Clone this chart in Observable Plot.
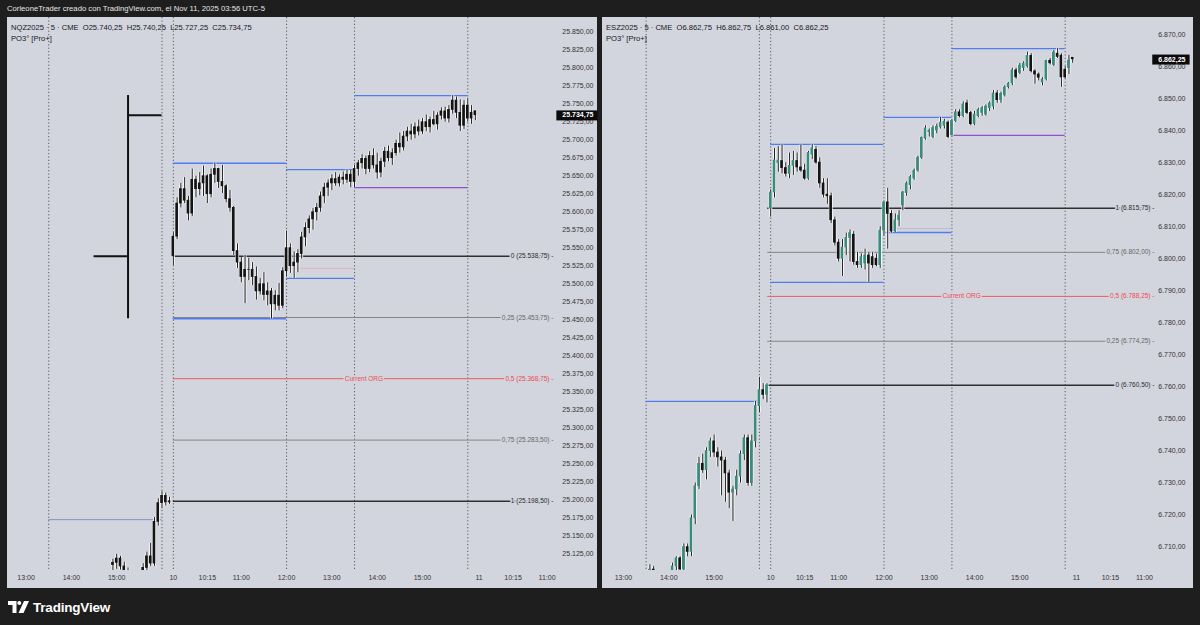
<!DOCTYPE html>
<html><head><meta charset="utf-8">
<script src="https://cdn.jsdelivr.net/npm/d3@7"></script>
<script src="https://cdn.jsdelivr.net/npm/@observablehq/plot@0.6"></script>
<style>
html,body{margin:0;padding:0;background:#1e1e1e;width:1200px;height:625px;overflow:hidden;font-family:"Liberation Sans",Arial,sans-serif;}
#title{position:absolute;left:7px;top:4px;font-size:7.7px;line-height:10px;color:#e6e6e6;white-space:nowrap;}
.panel{position:absolute;top:17px;height:571px;background:#d3d5de;}
#left{left:7px;width:590px;}
#right{left:602px;width:591px;}
.legend{position:absolute;left:4px;top:5px;font-size:7.6px;line-height:11px;color:#131722;white-space:nowrap;pointer-events:none;}
.panel svg{position:absolute;left:0;top:0;}
svg text{paint-order:stroke;}
#logo{position:absolute;left:8px;top:597px;height:20px;display:flex;align-items:center;color:#fff;font-weight:bold;font-size:13.5px;letter-spacing:-0.2px;}
#logo svg{margin-right:4px;}
</style>
</head><body>
<div id="title">CorleoneTrader creado con TradingView.com, el Nov 11, 2025 03:56 UTC-5</div>
<div class="panel" id="left"></div>
<div class="panel" id="right"></div>
<div id="logo"><svg width="21" height="12" viewBox="0 0 21 12"><path d="M0 0H8.5V12H4.5V4H0Z" fill="#fff"/><circle cx="11.3" cy="2" r="2" fill="#fff"/><path d="M16 0H21L15.5 12H10.5Z" fill="#fff"/></svg>TradingView</div>
<script>
// ---------- shared axis data ----------
const xTickIdx    = [0, 12, 24, 39, 48, 57, 69, 81, 93, 105, 120, 129, 138];
const xTickLabels = ["13:00","14:00","15:00","10","10:15","11:00","12:00","13:00","14:00","15:00","11","10:15","11:00"];
const sessionIdx  = [6, 36, 39, 69, 87, 117];

// ---------- NQZ2025 (left) ----------
const nqStart = 23;
const nqOpen  = [25110,25113,25119,25108,25100,25094,25085,25090,25096,25106,25122,25112,25170,25196,25206,25197,
  25538.75,25566,25612,25632,25616,25598,25645,25632,25640,25650,25625,25652,25660,25642,25636,25618,25606,25546,25530,25510,25520,25520,25510,25490,25500,25485,25490,25472,25484,25470,
  25518,25550,25525,25530,25542,25565,25578,25590,25600,25606,25622,25634,25640,25646,25640,25648,25645,25652,
  25642,25660,25668,25674,25660,25678,25665,25655,25670,25684,25675,25682,25695,25690,25705,25712,25708,25718,25712,25725,25718,25728,25722,25734,25740,25730,25742,25755,25738,25720,25748,25730,25740.25];
const nqHigh  = [25118,25125,25122,25114,25106,25098,25094,25100,25112,25128,25140,25176,25202,25212,25210,25204,
  25572,25620,25640,25648,25622,25660,25650,25655,25664,25652,25660,25668,25661,25665,25638,25630,25608,25556,25537,25540,25536,25530,25524,25508,25516,25502,25494,25491,25501,25523,
  25574,25556,25545,25548,25572,25585,25595,25605,25612,25628,25640,25645,25652,25655,25652,25656,25659,25658,
  25665,25672,25680,25678,25684,25688,25682,25675,25690,25692,25688,25700,25710,25712,25718,25722,25724,25728,25730,25735,25732,25740,25738,25745,25746,25748,25762,25760,25756,25755,25758,25748,25740.25];
const nqLow   = [25098,25104,25103,25094,25088,25080,25078,25084,25090,25100,25108,25108,25164,25188,25192,25194,
  25526,25562,25606,25612,25588,25594,25620,25623,25622,25612,25620,25640,25633,25626,25613,25600,25540,25522,25502,25473,25505,25498,25478,25485,25477,25470,25452,25463,25463,25466,
  25510,25515,25508,25516,25535,25552,25570,25575,25588,25600,25612,25622,25630,25636,25635,25638,25640,25634,
  25634,25650,25660,25652,25655,25660,25646,25648,25662,25670,25665,25678,25682,25685,25698,25700,25702,25706,25708,25712,25710,25720,25714,25728,25725,25724,25736,25730,25712,25715,25725,25722,25727.25];
const nqClose = [25113,25119,25108,25100,25094,25085,25090,25096,25106,25122,25112,25170,25196,25206,25197,25198.5,
  25566,25612,25632,25616,25598,25645,25632,25640,25650,25625,25652,25660,25642,25636,25618,25606,25546,25530,25510,25520,25520,25510,25490,25500,25485,25490,25472,25484,25470,25518,
  25550,25525,25530,25542,25565,25578,25590,25600,25606,25622,25634,25640,25646,25640,25648,25645,25652,25642,
  25660,25668,25674,25660,25678,25665,25655,25670,25684,25675,25682,25695,25690,25705,25712,25708,25718,25712,25725,25718,25728,25722,25734,25740,25730,25742,25755,25738,25720,25748,25730,25738,25734.75];
const nqTicks = d3.range(25125, 25851, 25);
const nqLevels = [
  {lvl:"0",    p:25538.75, kind:"black"},
  {lvl:"0,25", p:25453.75, kind:"gray"},
  {lvl:"0,5",  p:25368.75, kind:"red"},
  {lvl:"0,75", p:25283.50, kind:"gray"},
  {lvl:"1",    p:25198.50, kind:"black"}];
const nqRanges = [
  {a:6,  b:36,  p:25173, kind:"steel"},
  {a:39, b:69,  p:25668, kind:"blue"},
  {a:39, b:69,  p:25452, kind:"blue"},
  {a:69, b:87,  p:25659, kind:"blue"},
  {a:69, b:87,  p:25508, kind:"blue"},
  {a:69, b:87,  p:25522, kind:"pink"},
  {a:87, b:117, p:25762, kind:"blue"},
  {a:87, b:117, p:25634, kind:"purple"}];
const nqPo3 = {i0:18, i:27, i1:36, o:25538.75, h:25762, l:25452, c:25734.75};

// ---------- ESZ2025 (right) ----------
const esStart = 7;
const esOpen  = [6702,6703,6700,6698,6699,6700,6701,6704,6706.5,6703,6710,6708.5,6719,6729,6736,6734,6740,6743,6739.5,6738,6737,6733,6727,6728,6732,6739,6744,6730,6743,6754,6759,6757.5,
  6815.75,6820.7,6829.8,6830.5,6828.3,6826.5,6829,6830.5,6828.5,6827.5,6825,6832.5,6834,6830,6823.5,6820,6819.5,6812,6805,6800,6803.5,6806.5,6807.5,6799,6798,6798.5,6801,6800.5,6800,6798,
  6808.8,6817.6,6814,6808.5,6812,6816.6,6820.5,6823,6825,6827.5,6831.5,6837.5,6839.5,6838,6840,6841,6841.5,6842.5,
  6838.5,6843,6845.7,6844.5,6848.5,6845.5,6842,6844.5,6845.5,6845,6847,6847.5,6851.6,6849.5,6851,6853.5,6854.7,6858.8,6858,6859.5,6860,6863.3,6858.5,6857.5,6855,6856,6861.8,6860.5,6864,6863.4,6859,6859.5,6862.75];
const esHigh  = [6704.5,6704,6702,6701,6702,6702.5,6705,6707,6707,6711,6711,6720,6730,6738,6739,6741,6744,6745,6741,6740,6738,6734,6729,6734,6740,6745,6745,6745,6755.5,6763,6761,6761,
  6821.5,6834.4,6835,6835.5,6830,6833,6833.5,6833,6835.5,6829.5,6833.5,6835.7,6835,6831.5,6825,6825,6820.5,6813,6806,6806,6808,6809,6808.5,6802,6801.5,6803,6802,6802,6801.5,6810,
  6818,6822,6815,6814,6815,6821,6824,6826,6828,6832,6838,6841.5,6840.5,6841.5,6842,6844.1,6843.5,6843,
  6843.5,6846.5,6846.5,6849,6849.5,6846,6846,6847,6847.5,6848,6849,6852.5,6852.5,6852,6854,6855,6859.5,6859.5,6861,6861.5,6864.5,6864,6859,6858,6856.5,6862,6862.5,6865,6865.6,6864,6860,6863.5,6862.75];
const esLow   = [6698,6699,6696,6695,6697,6698,6700,6702,6702,6702,6707,6707,6717,6728,6733,6731,6738,6738,6735,6726,6724,6722,6718,6726,6730,6737,6729,6729,6741,6752,6756,6755,
  6813,6819,6827,6826.5,6825.5,6825,6826,6827,6827,6824.5,6824.5,6831,6829.5,6822,6819,6817,6811,6804,6799,6794.5,6801,6799,6798,6797,6797,6796.5,6792.6,6797,6797.5,6797,
  6807,6803,6808,6808.2,6810,6815,6819.5,6821.5,6824.5,6827,6831,6837,6838,6837.5,6839,6840.5,6840.5,6837.5,
  6838.3,6842.5,6844,6844,6845,6841.5,6841.5,6844,6844.5,6844.5,6846,6846.5,6848.5,6848.5,6850.5,6853,6854,6856,6857.5,6858.5,6859.5,6858,6854.5,6855.5,6854,6855.5,6860.5,6860,6862.5,6853.5,6856,6857.5,6861];
const esClose = [6703,6700,6698,6699,6700,6701,6704,6706.5,6703,6710,6708.5,6719,6729,6736,6734,6740,6743,6739.5,6738,6737,6733,6727,6728,6732,6739,6744,6730,6743,6754,6759,6757.5,6760.5,
  6820.7,6830.7,6830.7,6828.3,6826.5,6829,6830.5,6828.5,6827.5,6825,6833,6834.5,6830,6823.5,6820,6819.5,6812,6805,6800,6803.5,6806.5,6808,6799,6798,6800.5,6801,6798.5,6798,6798,6808.8,
  6817.6,6814,6808.5,6812,6813.5,6820.7,6823.5,6825.5,6827.5,6831.5,6837.8,6840.7,6840,6840.8,6841.2,6842.5,6842.8,6838,
  6843,6845.7,6844.5,6848.2,6845.5,6842,6845,6846.5,6847,6847.5,6848.5,6851.6,6849.5,6851.5,6853.5,6854.7,6858.8,6856.6,6860.3,6860.9,6863.3,6858.5,6857.5,6856.5,6856,6861.8,6861,6864.4,6863,6856.6,6856.6,6861.9,6862.25];
const esTicks = d3.range(6710, 6871, 10);
const esLevels = [
  {lvl:"1",    p:6815.75, kind:"black"},
  {lvl:"0,75", p:6802.00, kind:"gray"},
  {lvl:"0,5",  p:6788.25, kind:"red"},
  {lvl:"0,25", p:6774.25, kind:"gray"},
  {lvl:"0",    p:6760.50, kind:"black"}];
const esRanges = [
  {a:6,  b:36,  p:6755.5, kind:"blue"},
  {a:39, b:69,  p:6835.7, kind:"blue"},
  {a:39, b:69,  p:6792.6, kind:"blue"},
  {a:69, b:87,  p:6844.1, kind:"blue"},
  {a:69, b:87,  p:6809.4, kind:"lightgray"},
  {a:69, b:87,  p:6808.2, kind:"blue"},
  {a:87, b:117, p:6865.6, kind:"blue"},
  {a:87, b:117, p:6838.5, kind:"purple"}];

// ---------- styles ----------
const BG = "#d3d5de";
const levelStroke = {black:"#303030", gray:"#858585", red:"#f0585c"};
const levelText   = {black:"#2a2a2a", gray:"#666", red:"#ee4a50"};
const levelWidth  = {black:1.4, gray:1, red:1};
const rangeStroke = {blue:"#4f7df0", purple:"#9150d0", steel:"#8491c4", pink:"#e2b3c6", lightgray:"#b9bdca"};
const fmt = d3.formatLocale({decimal:",", thousands:".", grouping:[3], currency:["",""]}).format(",.2f");
const xLabel = new Map(xTickIdx.map((d,k)=>[d, xTickLabels[k]]));

function panel(el, cfg) {
  const bars = cfg.open.map((o,k)=>({i: cfg.start+k, o, h: cfg.high[k], l: cfg.low[k], c: cfg.close[k]}));
  const last = bars[bars.length-1];
  const xMax = cfg.xDomain[1];
  const levelStart = cfg.levelStart;
  const marks = [
    Plot.axisY(cfg.ticks, {anchor:"right", tickSize:0, tickPadding:cfg.tp, textAnchor:"end", tickFormat:fmt, fill:"#333", fontSize:7}),
    Plot.axisX(xTickIdx, {anchor:"bottom", tickSize:0, tickPadding:5, tickFormat:d=>xLabel.get(d), fill:"#333", fontSize:7}),
    Plot.ruleX(sessionIdx, {stroke:"#5a5a5a", strokeWidth:1, strokeDasharray:"1.2,2.2"}),
    Plot.ruleY(cfg.ranges, {y:"p", x1:"a", x2:"b", stroke:d=>rangeStroke[d.kind], strokeWidth:d=>d.kind==="blue"||d.kind==="purple"?1.3:1, clip:true}),
    Plot.ruleY(cfg.levels, {y:"p", x1:()=>levelStart, x2:()=>xMax, stroke:d=>levelStroke[d.kind], strokeWidth:d=>levelWidth[d.kind], clip:true})
  ];
  if (cfg.po3) {
    const q = cfg.po3;
    marks.push(Plot.ruleX([q], {x:"i", y1:"l", y2:"h", stroke:"#111", strokeWidth:2}));
    marks.push(Plot.ruleY([q], {y:"o", x1:"i0", x2:"i", stroke:"#111", strokeWidth:2}));
    marks.push(Plot.ruleY([q], {y:"c", x1:"i", x2:"i1", stroke:"#111", strokeWidth:2}));
  }
  marks.push(
    Plot.ruleX(bars, {x:"i", y1:"l", y2:"h", stroke:"#fff", strokeWidth:3, strokeOpacity:0.8, clip:true}),
    Plot.rect(bars, {x1:d=>d.i-0.48, x2:d=>d.i+0.48, y1:d=>Math.min(d.o,d.c), y2:d=>Math.max(d.o,d.c), fill:"#fff", fillOpacity:0.85, insetTop:-1, insetBottom:-1, clip:true}),
    Plot.ruleX(bars, {x:"i", y1:"l", y2:"h", stroke:"#1a1a1a", strokeWidth:1, clip:true}),
    Plot.rect(bars, {x1:d=>d.i-0.35, x2:d=>d.i+0.35, y1:d=>Math.min(d.o,d.c), y2:d=>Math.max(d.o,d.c), fill:d=>d.c>d.o?cfg.up:cfg.down, insetTop:-0.4, insetBottom:-0.4, clip:true}),
    Plot.text(cfg.levels, {y:"p", frameAnchor:"right", textAnchor:"end", dx:-1, text:d=>`${d.lvl} (${fmt(d.p)}) -`, fill:d=>levelText[d.kind], stroke:BG, strokeWidth:3, fontSize:6.5}),
    Plot.text(cfg.levels.filter(d=>d.kind==="red"), {y:"p", x:()=>(levelStart+xMax)/2, text:()=>"Current ORG", fill:levelText.red, stroke:BG, strokeWidth:3, fontSize:6.5}),
    Plot.text([last], {y:"c", frameAnchor:"right", textAnchor:"end", dx:cfg.tp, text:d=>fmt(d.c), fill:"#fff", fontWeight:"bold", fontSize:7, className:"lastprice"})
  );
  const chart = Plot.plot({
    width: cfg.width, height: 571,
    marginLeft: 0, marginRight: cfg.mr, marginTop: 0, marginBottom: 18,
    style: {background:"transparent", fontFamily:"'Liberation Sans', Arial, sans-serif", overflow:"visible"},
    x: {domain: cfg.xDomain, axis: null},
    y: {domain: cfg.yDomain, axis: null},
    color: {type:"identity"},
    marks
  });
  el.appendChild(chart);
  chart.querySelectorAll(".lastprice text").forEach(t => {
    const b = t.getBBox();
    const r = document.createElementNS("http://www.w3.org/2000/svg", "rect");
    r.setAttribute("x", b.x - 6); r.setAttribute("y", b.y - 1);
    r.setAttribute("width", b.width + 10); r.setAttribute("height", b.height + 2);
    r.setAttribute("fill", "#0b0b0b");
    const tr = t.getAttribute("transform");
    if (tr) r.setAttribute("transform", tr);
    t.parentNode.insertBefore(r, t);
  });
  const lg = document.createElement("div");
  lg.className = "legend";
  lg.innerHTML = cfg.legend.map(s=>`<div>${s}</div>`).join("");
  el.appendChild(lg);
}

panel(document.getElementById("left"), {
  start:nqStart, open:nqOpen, high:nqHigh, low:nqLow, close:nqClose,
  ticks:nqTicks, levels:nqLevels, ranges:nqRanges, po3:nqPo3, levelStart:39,
  width:590, mr:43, tp:39, xDomain:[-4.93, 139.97], yDomain:[25102.4, 25870.4],
  up:"#141414", down:"#141414",
  legend:["NQZ2025 · 5 · CME&nbsp; O25.740,25&nbsp; H25.740,25&nbsp; L25.727,25&nbsp; C25.734,75", "PO3° [Pro+]"]
});
panel(document.getElementById("right"), {
  start:esStart, open:esOpen, high:esHigh, low:esLow, close:esClose,
  ticks:esTicks, levels:esLevels, ranges:esRanges, po3:null, levelStart:38.2,
  width:591, mr:38, tp:30, xDomain:[-5.56, 140.93], yDomain:[6702.7, 6875.3],
  up:"#3a8a7d", down:"#141414",
  legend:["ESZ2025 · 5 · CME&nbsp; O6.862,75&nbsp; H6.862,75&nbsp; L6.861,00&nbsp; C6.862,25", "PO3° [Pro+]"]
});
</script>
</body></html>
